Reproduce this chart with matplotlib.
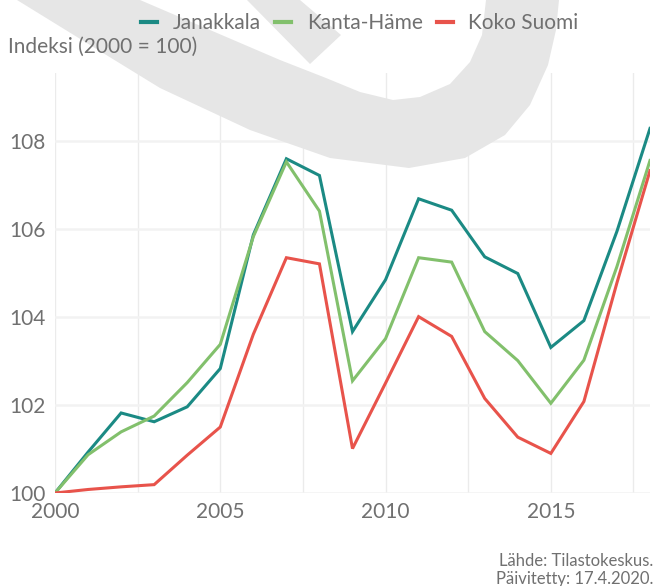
import matplotlib
matplotlib.use("Agg")
import matplotlib.pyplot as plt
from matplotlib.patches import Polygon

years = list(range(2000, 2019))
janakkala = [100.0, 100.93, 101.82, 101.62, 101.96, 102.83, 105.87, 107.60, 107.22, 103.67,
             104.85, 106.69, 106.43, 105.37, 104.99, 103.31, 103.92, 105.95, 108.29]
kanta_hame = [100.0, 100.87, 101.39, 101.75, 102.51, 103.38, 105.83, 107.53, 106.41, 102.55,
              103.51, 105.35, 105.25, 103.67, 103.01, 102.04, 103.02, 105.15, 107.56]
koko_suomi = [100.0, 100.08, 100.14, 100.19, 100.86, 101.50, 103.61, 105.35, 105.21, 101.01,
              102.50, 104.01, 103.56, 102.15, 101.27, 100.90, 102.08, 104.78, 107.33]

series = [("Janakkala", janakkala, "#1b8a84"),
          ("Kanta-Häme", kanta_hame, "#82c06c"),
          ("Koko Suomi", koko_suomi, "#e8534b")]

x_ticks = [2000, 2005, 2010, 2015]
y_ticks = [100, 102, 104, 106, 108]

W, H = 656, 586
plt.rcParams["font.family"] = ["Lato", "DejaVu Sans"]
text_col = "#707070"
fs = 15

fig = plt.figure(figsize=(W / 100, H / 100), dpi=100)


def px(pts):
    return [(x / W, 1 - y / H) for x, y in pts]


# grey logo watermark in the background
outer = [(17, 0), (90, 45), (160, 88), (250, 130), (330, 158), (409, 168), (465, 158),
         (505, 135), (530, 105), (548, 65), (556, 30), (559, 0)]
inner = [(486, 0), (482, 35), (470, 62), (450, 84), (420, 97), (393, 100), (360, 92),
         (326, 78), (280, 60), (210, 30), (140, 0)]
arm = [(247, 0), (300, 0), (341, 35), (310, 64)]
for shape in (outer + inner, arm):
    fig.patches.append(Polygon(px(shape), closed=True, transform=fig.transFigure,
                               facecolor="#e6e6e6", edgecolor="none", zorder=0))

ax = fig.add_axes([55 / W, 93 / H, 595 / W, 420 / H])
ax.patch.set_alpha(0)

for name, vals, col in series:
    ax.plot(years, vals, color=col, lw=2.2, label=name, solid_joinstyle="miter", zorder=3)

ax.set_xlim(2000, 2018)
ax.set_ylim(100, 109.55)
ax.set_xticks(x_ticks)
ax.set_xticks([2002.5, 2007.5, 2012.5, 2017.5], minor=True)
ax.set_yticks(y_ticks)
ax.grid(axis="x", which="both", color="#ebebeb", lw=1.0)
ax.grid(axis="y", which="major", color="#f2f2f2", lw=1.8)
ax.tick_params(which="both", length=0, labelsize=fs, labelcolor=text_col)
ax.tick_params(axis="x", pad=6.5)
ax.tick_params(axis="y", pad=7)
for s in ax.spines.values():
    s.set_visible(False)

fig.text(8 / W, 1 - 47 / H, "Indeksi (2000 = 100)", fontsize=fs, color=text_col,
         va="center", ha="left")

fig.legend(loc="center", bbox_to_anchor=(360 / W, 1 - 23 / H), ncol=3, frameon=False,
           fontsize=fs, handlelength=0.75, handletextpad=0.75, columnspacing=0.7,
           labelcolor=text_col, borderpad=0)
for line in fig.legends[0].get_lines():
    line.set_linewidth(3)

fig.text(653 / W, 1 - 561 / H, "Lähde: Tilastokeskus.", fontsize=12, color=text_col,
         ha="right", va="center")
fig.text(653 / W, 1 - 579 / H, "Päivitetty: 17.4.2020.", fontsize=12, color=text_col,
         ha="right", va="center")

fig.savefig("out.png", dpi=100)
